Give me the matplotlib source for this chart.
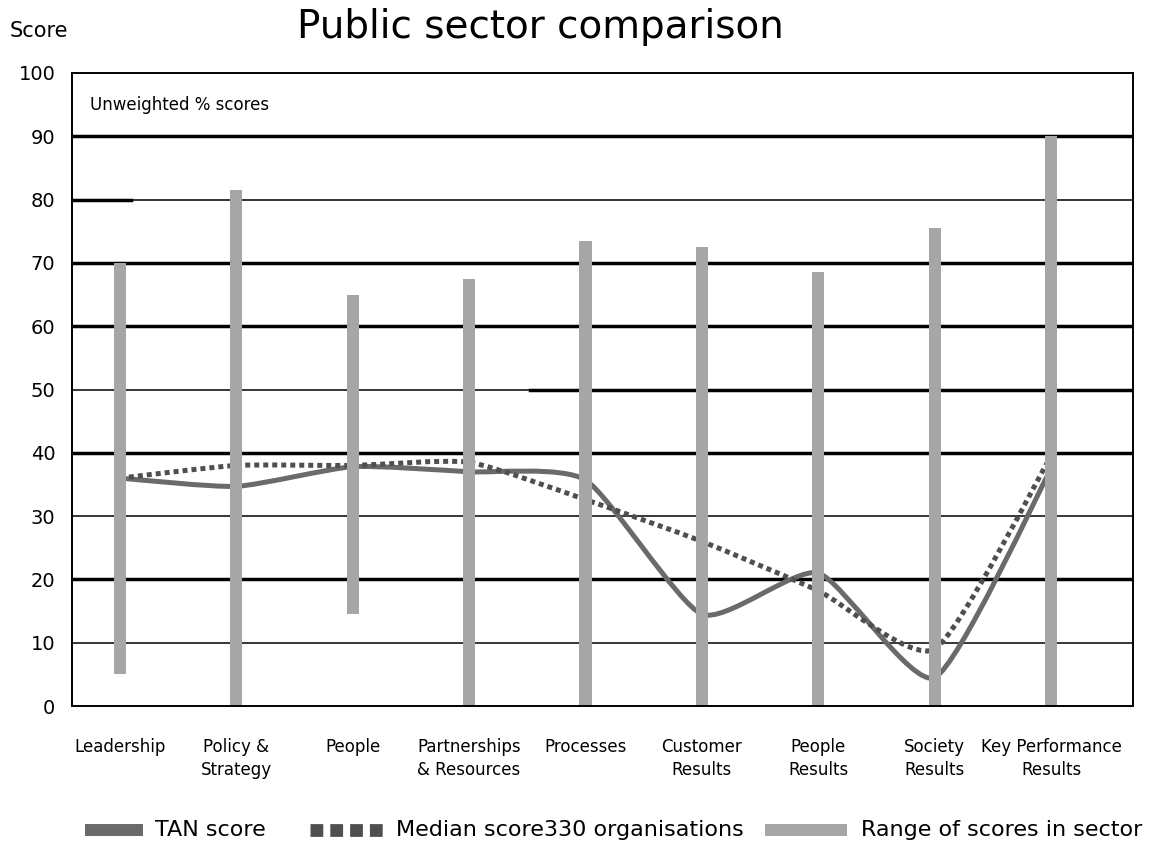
import numpy as np
import matplotlib
matplotlib.use("Agg")
import matplotlib.pyplot as plt
from matplotlib.path import Path
from matplotlib.patches import PathPatch
from matplotlib.lines import Line2D

plt.rcParams['font.family'] = ['DejaVu Sans']

# ---------------- data ----------------
categories = ["Leadership", "Policy &\nStrategy", "People", "Partnerships\n& Resources",
              "Processes", "Customer\nResults", "People\nResults", "Society\nResults",
              "Key Performance\nResults"]
tan_score = [36.0, 34.7, 37.8, 37.0, 35.7, 14.5, 21.0, 4.5, 37.5]
median_score = [36.0, 38.0, 38.0, 38.5, 32.6, 26.0, 18.2, 9.0, 39.5]
range_low = [5.0, 0.0, 14.5, 0.0, 0.0, 0.0, 0.0, 0.0, 0.0]
range_high = [70.0, 81.5, 65.0, 67.5, 73.5, 72.5, 68.5, 75.5, 90.0]
yticks = [0, 10, 20, 30, 40, 50, 60, 70, 80, 90, 100]
thick_grid = [90, 70, 60, 40, 20]
thin_grid = [80, 50, 30, 10]

W, H = 1152, 844
fig = plt.figure(figsize=(W / 100, H / 100), dpi=100)
ax = fig.add_axes([72 / W, (H - 706) / H, (1133 - 72) / W, (706 - 73) / H])

x = np.arange(len(categories))
ax.set_xlim(-0.412, 8.704)
ax.set_ylim(0, 100)

# gridlines
for v in thin_grid:
    ax.axhline(v, color='black', lw=1.1, zorder=1)
for v in thick_grid:
    ax.axhline(v, color='black', lw=2.5, zorder=1)
# partial heavy segments seen in the original
ax.axhline(80, xmin=0, xmax=0.056, color='black', lw=2.5, zorder=1)
ax.axhline(50, xmin=0.432, xmax=1, color='black', lw=2.5, zorder=1)


def smooth_path(xs, ys, k=0.1):
    pts = np.column_stack([xs, ys]).astype(float)
    n = len(pts)
    verts = [pts[0]]
    codes = [Path.MOVETO]
    for i in range(n - 1):
        p0 = pts[i - 1] if i > 0 else pts[i]
        p1 = pts[i]
        p2 = pts[i + 1]
        p3 = pts[i + 2] if i + 2 < n else pts[i + 1]
        c1 = p1 + (p2 - p0) * k
        c2 = p2 - (p3 - p1) * k
        verts += [c1, c2, p2]
        codes += [Path.CURVE4] * 3
    return Path(verts, codes)


tan_patch = PathPatch(smooth_path(x, tan_score), fill=False, edgecolor='#6a6a6a',
                      lw=3.6, zorder=2, capstyle='butt', joinstyle='round')
ax.add_patch(tan_patch)
med_patch = PathPatch(smooth_path(x, median_score), fill=False, edgecolor='#4f4f4f',
                      lw=3.6, zorder=2.1, linestyle=(0, (1.0, 0.8)), capstyle='butt')
ax.add_patch(med_patch)

# range bars
heights = np.array(range_high) - np.array(range_low)
ax.bar(x, heights, bottom=range_low, width=0.105, color='#a6a6a6', zorder=3,
       linewidth=0)

# axes styling
for s in ax.spines.values():
    s.set_linewidth(1.4)
    s.set_color('black')
    s.set_zorder(4)
ax.set_yticks(yticks)
ax.set_yticklabels([str(v) for v in yticks], fontsize=14)
ax.set_xticks(x)
ax.set_xticklabels(categories, fontsize=12, linespacing=1.35, ha='center', va='top')
ax.tick_params(axis='y', length=0, pad=12)
ax.tick_params(axis='x', length=0, pad=23)

ax.text(-0.26, 95, "Unweighted % scores", fontsize=12, va='center', ha='left')

# titles
fig.text(540 / W, (H - 38) / H, "Public sector comparison", fontsize=28,
         ha='center', va='baseline')
fig.text(10 / W, (H - 37) / H, "Score", fontsize=15, ha='left', va='baseline')

# legend (manual layout)
ly = (H - 830) / H
fig.add_artist(Line2D([85 / W, 143 / W], [ly, ly], transform=fig.transFigure,
                      color='#6a6a6a', lw=8.6, solid_capstyle='butt'))
fig.text(155 / W, ly, "TAN score", fontsize=16, ha='left', va='center')
fig.add_artist(Line2D([310 / W, 383 / W], [ly, ly], transform=fig.transFigure,
                      color='#4f4f4f', lw=9.2, linestyle=(0, (1.0, 0.55)),
                      dash_capstyle='butt'))
fig.text(396 / W, ly, "Median score330 organisations", fontsize=16, ha='left', va='center')
fig.add_artist(Line2D([765 / W, 847 / W], [ly, ly], transform=fig.transFigure,
                      color='#a6a6a6', lw=8.6, solid_capstyle='butt'))
fig.text(861 / W, ly, "Range of scores in sector", fontsize=16, ha='left', va='center')

fig.savefig("out.png", dpi=100, facecolor='white')
